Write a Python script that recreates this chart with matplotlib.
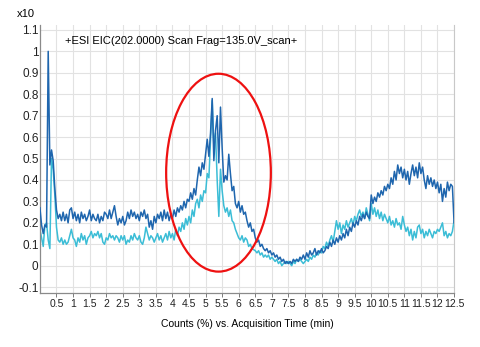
import numpy as np
import matplotlib.pyplot as plt
from matplotlib.patches import Ellipse

plt.rcParams['font.family'] = ['Liberation Sans', 'DejaVu Sans']

# acquisition times (min), one scan every 0.05 min
times = np.linspace(0, 12.5, 251)

# EIC trace, dark blue (x10^7 counts)
blue = [
    0.27, 0.19, 0.15, 0.19, 0.18, 1.00, 0.47, 0.54, 0.49, 0.36,
    0.26, 0.22, 0.24, 0.21, 0.25, 0.21, 0.24, 0.20, 0.26, 0.27,
    0.22, 0.25, 0.21, 0.24, 0.20, 0.25, 0.22, 0.24, 0.21, 0.23,
    0.26, 0.21, 0.24, 0.22, 0.21, 0.24, 0.20, 0.23, 0.21, 0.25,
    0.24, 0.22, 0.26, 0.22, 0.25, 0.28, 0.23, 0.19, 0.22, 0.20,
    0.23, 0.19, 0.21, 0.25, 0.22, 0.26, 0.23, 0.25, 0.22, 0.24,
    0.21, 0.25, 0.23, 0.26, 0.22, 0.24, 0.18, 0.21, 0.17, 0.23,
    0.20, 0.24, 0.22, 0.25, 0.21, 0.26, 0.22, 0.25, 0.21, 0.24,
    0.22, 0.26, 0.23, 0.27, 0.25, 0.28, 0.26, 0.30, 0.27, 0.31,
    0.30, 0.34, 0.31, 0.36, 0.33, 0.40, 0.46, 0.42, 0.48, 0.45,
    0.52, 0.59, 0.51, 0.62, 0.78, 0.49, 0.63, 0.70, 0.48, 0.74,
    0.55, 0.39, 0.42, 0.40, 0.52, 0.43, 0.35, 0.37, 0.29, 0.27,
    0.30, 0.25, 0.28, 0.24, 0.25, 0.21, 0.18, 0.20, 0.16, 0.17,
    0.13, 0.11, 0.12, 0.09, 0.10, 0.08, 0.07, 0.08, 0.06, 0.07,
    0.05, 0.06, 0.04, 0.05, 0.03, 0.04, 0.02, 0.03, 0.01, 0.02,
    0.01, 0.02, 0.01, 0.03, 0.02, 0.03, 0.02, 0.04, 0.03, 0.05,
    0.03, 0.06, 0.04, 0.07, 0.05, 0.06, 0.08, 0.05, 0.07, 0.06,
    0.08, 0.06, 0.07, 0.09, 0.08, 0.11, 0.09, 0.12, 0.10, 0.13,
    0.11, 0.14, 0.12, 0.15, 0.13, 0.17, 0.14, 0.18, 0.16, 0.20,
    0.18, 0.21, 0.19, 0.23, 0.21, 0.24, 0.22, 0.25, 0.23, 0.22,
    0.33, 0.29, 0.32, 0.30, 0.34, 0.32, 0.35, 0.33, 0.37, 0.35,
    0.38, 0.36, 0.41, 0.38, 0.44, 0.40, 0.47, 0.43, 0.46, 0.41,
    0.45, 0.40, 0.44, 0.38, 0.43, 0.47, 0.42, 0.46, 0.41, 0.48,
    0.43, 0.46, 0.40, 0.36, 0.42, 0.38, 0.41, 0.37, 0.40, 0.36,
    0.39, 0.34, 0.38, 0.30, 0.36, 0.32, 0.39, 0.35, 0.38, 0.37,
    0.20,
]

# EIC trace, cyan
cyan = [
    0.17, 0.13, 0.09, 0.19, 0.20, 0.12, 0.08, 0.50, 0.45, 0.33,
    0.18, 0.12, 0.11, 0.13, 0.10, 0.12, 0.10, 0.11, 0.14, 0.17,
    0.13, 0.12, 0.09, 0.13, 0.11, 0.15, 0.12, 0.14, 0.10, 0.13,
    0.14, 0.16, 0.13, 0.15, 0.14, 0.16, 0.13, 0.15, 0.11, 0.10,
    0.13, 0.12, 0.15, 0.13, 0.14, 0.12, 0.14, 0.13, 0.11, 0.14,
    0.12, 0.14, 0.10, 0.12, 0.11, 0.14, 0.12, 0.15, 0.13, 0.12,
    0.14, 0.11, 0.10, 0.13, 0.18, 0.15, 0.12, 0.14, 0.13, 0.11,
    0.13, 0.15, 0.12, 0.14, 0.11, 0.13, 0.15, 0.12, 0.16, 0.13,
    0.15, 0.12, 0.17, 0.14, 0.18, 0.16, 0.20, 0.17, 0.22, 0.19,
    0.23, 0.20, 0.26, 0.23, 0.29, 0.31, 0.27, 0.33, 0.30, 0.35,
    0.34, 0.43, 0.41, 0.59, 0.77, 0.56, 0.62, 0.40, 0.23, 0.45,
    0.35, 0.28, 0.25, 0.27, 0.23, 0.26, 0.21, 0.20, 0.17, 0.15,
    0.13, 0.12, 0.14, 0.11, 0.13, 0.12, 0.09, 0.10, 0.08, 0.075,
    0.07, 0.06, 0.07, 0.05, 0.06, 0.04, 0.05, 0.04, 0.05, 0.03,
    0.04, 0.03, 0.02, 0.03, 0.01, 0.02, 0.00, 0.01, 0.02, 0.01,
    0.02, 0.01, 0.00, 0.02, 0.01, 0.03, 0.02, 0.03, 0.02, 0.01,
    0.02, 0.03, 0.02, 0.04, 0.03, 0.05, 0.04, 0.06, 0.05, 0.07,
    0.06, 0.09, 0.08, 0.11, 0.09, 0.12, 0.14, 0.11, 0.16, 0.21,
    0.17, 0.20, 0.15, 0.19, 0.17, 0.21, 0.18, 0.20, 0.22, 0.19,
    0.23, 0.21, 0.24, 0.26, 0.23, 0.25, 0.22, 0.27, 0.24, 0.21,
    0.29, 0.24, 0.27, 0.23, 0.26, 0.22, 0.25, 0.21, 0.24, 0.22,
    0.20, 0.23, 0.19, 0.21, 0.18, 0.22, 0.19, 0.20, 0.17, 0.23,
    0.19, 0.16, 0.18, 0.14, 0.17, 0.12, 0.16, 0.13, 0.18, 0.19,
    0.15, 0.17, 0.13, 0.16, 0.14, 0.17, 0.15, 0.13, 0.16, 0.15,
    0.17, 0.16, 0.18, 0.20, 0.14, 0.16, 0.13, 0.15, 0.14, 0.16,
    0.21,
]

x_ticks = [0.5 * i for i in range(1, 26)]
x_labels = ['%g' % v for v in x_ticks]
y_ticks = [round(-0.1 + 0.1 * i, 1) for i in range(13)]
y_labels = ['%g' % v for v in y_ticks]

title = '+ESI EIC(202.0000) Scan Frag=135.0V_scan+'

fig = plt.figure(figsize=(4.81, 3.47), dpi=100)
ax = fig.add_axes([0.083, 0.157, 0.861, 0.771])

ax.plot(times, blue, color='#1f66ae', linewidth=1.1, zorder=3)
ax.plot(times, cyan, color='#3bbdd6', linewidth=1.1, zorder=2)

# highlight around the main peak
ring = Ellipse((5.39, 0.434), 3.16, 0.923, fill=False,
               edgecolor='#ee1111', linewidth=1.6, zorder=4)
ax.add_patch(ring)

ax.set_xlim(0, 12.5)
ax.set_ylim(-0.125, 1.123)
ax.set_xticks(x_ticks)
ax.set_xticklabels(x_labels, fontsize=7.5, color='#222222')
ax.set_yticks(y_ticks)
ax.set_yticklabels(y_labels, fontsize=8.5, color='#222222')
ax.tick_params(axis='x', length=3, width=0.6, color='#666666', pad=2)
ax.tick_params(axis='y', length=0, pad=1)

ax.grid(True, color='#e2e2e2', linewidth=0.8)
ax.set_axisbelow(True)
ax.spines['top'].set_visible(False)
ax.spines['right'].set_color('#c8c8c8')
for side in ['left', 'bottom']:
    ax.spines[side].set_color('#8a8a8a')
    ax.spines[side].set_linewidth(0.9)

ax.text(0.77, 1.05, title, fontsize=8, va='center', ha='left')
fig.text(17 / 481, 1 - 14 / 347, 'x10', fontsize=8, va='center', ha='left')

ax.set_xlabel('Counts (%) vs. Acquisition Time (min)', fontsize=7.5, labelpad=7)

fig.savefig('out.png', dpi=100)
